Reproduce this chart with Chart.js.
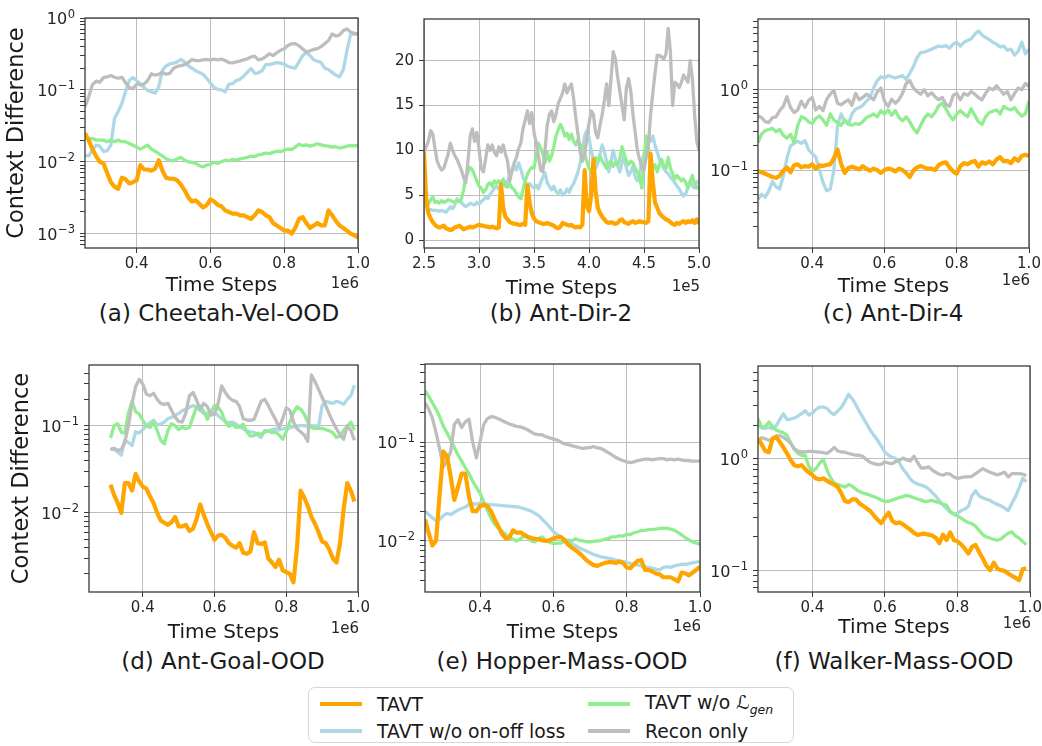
<!DOCTYPE html>
<html>
<head>
<meta charset="utf-8">
<script src="https://cdn.jsdelivr.net/npm/chart.js@4/dist/chart.umd.min.js"></script>
<style>
  html, body { margin: 0; padding: 0; background: #fff; }
  body { width: 1042px; height: 746px; position: relative; overflow: hidden;
         font-family: "DejaVu Sans", sans-serif; color: #1a1a1a; }
  .panel { position: absolute; }
  .panel canvas { display: block; }
  .cap { position: absolute; font-size: 23px; white-space: nowrap;
         transform: translate(-50%, -50%); line-height: 1; }
  #legend { position: absolute; left: 308px; top: 687px; width: 486px; height: 56px;
            border: 1.5px solid #d6d6d6; border-radius: 7px; box-sizing: border-box; background: #fff; }
  .li { position: absolute; height: 22px; display: flex; align-items: center;
        font-size: 18.8px; white-space: nowrap; }
  .li i { display: inline-block; width: 42px; height: 3.5px; margin-right: 15px; }
  .cal { font-style: italic; }
  .li sub { font-size: 12.5px; font-style: italic; position: relative; top: 1px; }
</style>
</head>
<body>

<div class="cap" style="left:219px;top:313px">(a) Cheetah-Vel-OOD</div>
<div class="cap" style="left:561px;top:313px">(b) Ant-Dir-2</div>
<div class="cap" style="left:893px;top:313px">(c) Ant-Dir-4</div>
<div class="cap" style="left:223px;top:661px">(d) Ant-Goal-OOD</div>
<div class="cap" style="left:562px;top:661px">(e) Hopper-Mass-OOD</div>
<div class="cap" style="left:894px;top:661px">(f) Walker-Mass-OOD</div>

<div id="legend">
  <div class="li" style="left:11px;top:5px"><i style="background:#ffa500;height:4px"></i><span>TAVT</span></div>
  <div class="li" style="left:11px;top:32px"><i style="background:#add8e6"></i><span>TAVT w/o on-off loss</span></div>
  <div class="li" style="left:279px;top:5px"><i style="background:#90ee90"></i><span>TAVT w/o <span class="cal">ℒ</span><sub>gen</sub></span></div>
  <div class="li" style="left:279px;top:32px"><i style="background:#bebebe"></i><span>Recon only</span></div>
</div>

<script>
// ---------- time steps (×1e6, except Ant-Dir-2 which is ×1e5) ----------
const cheetahSteps = [0.26,0.27,0.28,0.29,0.30,0.31,0.32,0.33,0.34,0.35,0.36,0.37,0.38,0.39,0.40,0.41,0.42,0.43,0.44,0.45,0.46,0.47,0.48,0.49,0.50,0.51,0.52,0.53,0.54,0.55,0.56,0.57,0.58,0.59,0.60,0.61,0.62,0.63,0.64,0.65,0.66,0.67,0.68,0.69,0.70,0.71,0.72,0.73,0.74,0.75,0.76,0.77,0.78,0.79,0.80,0.81,0.82,0.83,0.84,0.85,0.86,0.87,0.88,0.89,0.90,0.91,0.92,0.93,0.94,0.95,0.96,0.97,0.98,0.99,1.00];
const antDir2Steps = [2.50,2.52,2.54,2.56,2.58,2.60,2.62,2.64,2.66,2.68,2.70,2.72,2.74,2.76,2.78,2.80,2.82,2.84,2.86,2.88,2.90,2.92,2.94,2.96,2.98,3.00,3.02,3.04,3.06,3.08,3.10,3.12,3.14,3.16,3.18,3.20,3.22,3.24,3.26,3.28,3.30,3.32,3.34,3.36,3.38,3.40,3.42,3.44,3.46,3.48,3.50,3.52,3.54,3.56,3.58,3.60,3.62,3.64,3.66,3.68,3.70,3.72,3.74,3.76,3.78,3.80,3.82,3.84,3.86,3.88,3.90,3.92,3.94,3.96,3.98,4.00,4.02,4.04,4.06,4.08,4.10,4.12,4.14,4.16,4.18,4.20,4.22,4.24,4.26,4.28,4.30,4.32,4.34,4.36,4.38,4.40,4.42,4.44,4.46,4.48,4.50,4.52,4.54,4.56,4.58,4.60,4.62,4.64,4.66,4.68,4.70,4.72,4.74,4.76,4.78,4.80,4.82,4.84,4.86,4.88,4.90,4.92,4.94,4.96,4.98,5.00];
const antDir4Steps = [0.25,0.26,0.27,0.28,0.29,0.30,0.31,0.32,0.33,0.34,0.35,0.36,0.37,0.38,0.39,0.40,0.41,0.42,0.43,0.44,0.45,0.46,0.47,0.48,0.49,0.50,0.51,0.52,0.53,0.54,0.55,0.56,0.57,0.58,0.59,0.60,0.61,0.62,0.63,0.64,0.65,0.66,0.67,0.68,0.69,0.70,0.71,0.72,0.73,0.74,0.75,0.76,0.77,0.78,0.79,0.80,0.81,0.82,0.83,0.84,0.85,0.86,0.87,0.88,0.89,0.90,0.91,0.92,0.93,0.94,0.95,0.96,0.97,0.98,0.99,1.00];
const antGoalSteps = [0.31,0.32,0.33,0.34,0.35,0.36,0.37,0.38,0.39,0.40,0.41,0.42,0.43,0.44,0.45,0.46,0.47,0.48,0.49,0.50,0.51,0.52,0.53,0.54,0.55,0.56,0.57,0.58,0.59,0.60,0.61,0.62,0.63,0.64,0.65,0.66,0.67,0.68,0.69,0.70,0.71,0.72,0.73,0.74,0.75,0.76,0.77,0.78,0.79,0.80,0.81,0.82,0.83,0.84,0.85,0.86,0.87,0.88,0.89,0.90,0.91,0.92,0.93,0.94,0.95,0.96,0.97,0.98,0.99];
const hopperSteps = [0.25,0.26,0.27,0.28,0.29,0.30,0.31,0.32,0.33,0.34,0.35,0.36,0.37,0.38,0.39,0.40,0.41,0.42,0.43,0.44,0.45,0.46,0.47,0.48,0.49,0.50,0.51,0.52,0.53,0.54,0.55,0.56,0.57,0.58,0.59,0.60,0.61,0.62,0.63,0.64,0.65,0.66,0.67,0.68,0.69,0.70,0.71,0.72,0.73,0.74,0.75,0.76,0.77,0.78,0.79,0.80,0.81,0.82,0.83,0.84,0.85,0.86,0.87,0.88,0.89,0.90,0.91,0.92,0.93,0.94,0.95,0.96,0.97,0.98,0.99,1.00];
const walkerSteps = [0.25,0.26,0.27,0.28,0.29,0.30,0.31,0.32,0.33,0.34,0.35,0.36,0.37,0.38,0.39,0.40,0.41,0.42,0.43,0.44,0.45,0.46,0.47,0.48,0.49,0.50,0.51,0.52,0.53,0.54,0.55,0.56,0.57,0.58,0.59,0.60,0.61,0.62,0.63,0.64,0.65,0.66,0.67,0.68,0.69,0.70,0.71,0.72,0.73,0.74,0.75,0.76,0.77,0.78,0.79,0.80,0.81,0.82,0.83,0.84,0.85,0.86,0.87,0.88,0.89,0.90,0.91,0.92,0.93,0.94,0.95,0.96,0.97,0.98,0.99];

// ---------- (a) Cheetah-Vel-OOD ----------
const cheetahTavt = [0.025,0.020,0.015,0.012,0.010,0.0095,0.0070,0.0052,0.0045,0.0042,
  0.0060,0.0057,0.0050,0.0052,0.0055,0.0090,0.0078,0.0078,0.0075,0.0080,
  0.0105,0.0075,0.0060,0.0058,0.0058,0.0055,0.0048,0.0040,0.0032,0.0028,
  0.0029,0.0026,0.0023,0.0025,0.0030,0.0028,0.0025,0.0024,0.0021,0.0020,
  0.0019,0.0019,0.0018,0.0018,0.0017,0.0016,0.0018,0.0021,0.0020,0.0018,
  0.0017,0.0014,0.0013,0.0012,0.0011,0.0011,0.0010,0.0012,0.0016,0.0017,
  0.0014,0.0012,0.0013,0.0014,0.0013,0.0013,0.0021,0.0018,0.0015,0.0013,
  0.0012,0.0011,0.0010,0.00095,0.00088];
const cheetahNoOnOff = [0.0123,0.0121,0.0145,0.0170,0.0165,0.0140,0.0142,0.0170,0.040,0.050,
  0.065,0.095,0.135,0.148,0.135,0.120,0.108,0.098,0.094,0.090,
  0.110,0.190,0.215,0.230,0.235,0.245,0.265,0.245,0.215,0.200,
  0.185,0.175,0.165,0.145,0.125,0.108,0.102,0.100,0.094,0.120,
  0.122,0.135,0.140,0.155,0.175,0.198,0.170,0.172,0.185,0.225,
  0.225,0.232,0.240,0.235,0.228,0.212,0.205,0.200,0.245,0.300,
  0.330,0.300,0.262,0.250,0.240,0.200,0.192,0.175,0.160,0.152,
  0.190,0.350,0.590,0.600,0.590];
const cheetahNoGen = [0.022,0.021,0.021,0.020,0.020,0.020,0.019,0.020,0.019,0.020,
  0.019,0.019,0.018,0.017,0.016,0.015,0.016,0.017,0.015,0.014,
  0.013,0.012,0.011,0.0105,0.0103,0.011,0.0115,0.0105,0.0100,0.0098,
  0.0095,0.0088,0.0085,0.0090,0.0092,0.0098,0.0095,0.0100,0.0105,0.0103,
  0.0108,0.0105,0.0110,0.0112,0.0115,0.0120,0.0118,0.0125,0.0128,0.0132,
  0.0130,0.0135,0.0140,0.0138,0.0145,0.0150,0.0148,0.0160,0.0175,0.0168,
  0.0172,0.0165,0.0170,0.0178,0.0172,0.0168,0.0165,0.0160,0.0162,0.0155,
  0.0158,0.0165,0.0168,0.0167,0.0168];
const cheetahRecon = [0.058,0.080,0.118,0.132,0.128,0.148,0.152,0.158,0.150,0.145,
  0.150,0.125,0.108,0.104,0.120,0.118,0.120,0.135,0.168,0.160,
  0.165,0.175,0.165,0.170,0.200,0.212,0.218,0.225,0.240,0.265,
  0.255,0.256,0.262,0.266,0.260,0.268,0.262,0.268,0.256,0.240,
  0.238,0.245,0.252,0.262,0.270,0.288,0.295,0.262,0.270,0.290,
  0.318,0.300,0.330,0.355,0.373,0.414,0.437,0.440,0.410,0.370,
  0.335,0.350,0.365,0.375,0.400,0.440,0.486,0.600,0.560,0.580,
  0.668,0.705,0.640,0.610,0.600];

// ---------- (b) Ant-Dir-2 ----------
const antDir2Tavt = [9.8,4.5,3.0,2.4,2.0,1.7,1.5,1.4,1.5,1.6,
  1.3,1.2,1.1,1.2,1.4,1.5,1.6,1.4,1.2,1.3,
  1.4,1.5,1.4,1.5,1.6,1.7,1.6,1.6,1.5,1.5,
  1.4,1.5,1.4,1.3,1.4,6.2,3.6,2.6,2.3,2.0,
  1.9,1.8,1.8,1.7,1.7,1.8,1.7,6.1,4.2,3.0,
  2.4,2.1,2.0,1.9,1.8,1.8,1.9,1.8,1.7,1.6,
  1.4,1.3,1.5,1.9,1.8,1.7,1.6,1.7,1.5,1.4,
  1.5,1.4,1.7,7.8,3.8,3.2,5.0,9.0,5.5,3.6,
  3.0,2.6,2.3,2.0,1.9,2.0,1.9,1.8,1.9,2.2,
  2.3,2.0,1.9,1.8,2.0,2.1,1.9,2.0,2.1,2.0,
  2.0,1.9,2.1,9.6,6.5,4.2,3.6,3.0,2.7,2.5,
  2.3,2.2,2.0,1.8,1.7,1.9,1.8,2.0,2.1,1.9,
  2.1,2.0,2.2,1.9,2.3,1.8];
const antDir2NoOnOff = [4.6,3.8,3.4,3.4,3.3,3.3,3.3,3.2,3.3,3.2,
  3.1,3.4,3.7,3.5,3.9,4.6,4.3,4.2,3.9,3.7,
  3.9,4.1,4.0,3.9,4.2,4.0,4.3,4.5,4.8,4.6,
  5.1,5.4,5.8,6.0,5.7,6.1,6.4,6.0,6.6,7.2,
  7.6,8.3,7.8,8.6,7.9,7.0,6.5,6.0,6.3,6.0,
  5.8,6.1,5.7,6.4,7.0,7.5,6.4,6.0,5.6,6.0,
  5.4,5.2,5.6,5.0,5.2,5.7,5.3,5.9,6.3,6.9,
  7.6,8.6,10.2,11.6,12.2,11.4,10.0,9.0,8.0,8.6,
  9.6,10.6,9.8,8.8,7.6,8.8,10.0,9.0,8.3,7.6,
  8.6,9.4,8.0,7.2,7.6,8.2,7.0,6.6,7.4,8.6,
  9.6,10.6,11.2,11.0,11.6,10.6,9.8,9.0,8.4,8.0,
  7.6,7.4,7.0,6.7,6.4,6.0,5.7,5.2,4.9,5.2,
  5.9,6.4,6.0,5.8,6.5,6.4];
const antDir2NoGen = [6.2,4.6,4.0,4.5,4.8,4.2,4.3,4.1,4.4,4.2,
  4.3,4.5,4.4,4.3,4.2,4.4,4.3,4.6,5.6,7.0,
  7.6,8.1,7.8,7.2,6.6,6.0,5.8,5.3,5.6,6.2,
  6.4,6.0,6.6,6.3,6.6,6.4,6.8,6.2,5.9,6.3,
  5.8,5.6,5.2,4.8,4.6,5.6,6.6,7.3,7.8,8.1,
  8.0,9.4,10.8,10.3,9.6,8.6,9.8,8.8,9.4,10.4,
  11.6,12.3,12.9,12.4,11.6,11.9,11.2,11.8,11.0,10.6,
  11.2,10.2,10.6,9.6,8.8,8.0,7.6,8.4,9.2,8.8,
  9.4,8.8,8.4,8.0,8.6,8.8,8.2,8.6,8.4,9.0,
  10.4,9.6,8.8,8.4,8.8,8.6,8.0,7.6,7.0,5.8,
  9.0,11.6,10.4,8.6,8.0,8.4,7.6,8.4,9.0,8.2,
  8.0,9.2,8.0,7.4,6.8,7.2,6.9,6.6,6.8,6.4,
  5.8,6.6,7.2,6.2,5.9,5.7];
const antDir2Recon = [9.8,10.4,11.0,12.2,11.8,10.2,8.8,8.2,7.8,8.0,
  8.8,9.6,10.8,10.0,9.4,9.0,8.4,7.8,7.0,6.4,
  8.8,11.6,12.4,11.0,12.0,10.2,8.0,7.6,9.0,10.6,
  10.0,10.6,9.8,9.4,10.4,9.8,10.6,9.6,8.8,6.6,
  7.8,8.6,9.2,10.2,10.8,12.4,13.4,14.4,13.0,14.2,
  12.0,10.8,9.4,7.8,7.6,10.0,12.8,14.0,14.4,13.2,
  14.0,15.2,15.8,16.4,17.4,16.4,17.0,17.4,15.8,13.6,
  11.8,9.8,8.8,9.4,11.4,13.0,14.4,14.0,12.0,11.4,
  12.8,14.0,15.6,17.4,15.0,18.0,21.0,20.2,18.2,16.6,
  15.0,13.4,17.0,18.0,16.6,14.0,12.0,10.0,9.0,8.0,
  7.8,9.2,10.6,14.0,16.4,18.6,20.6,20.6,20.4,20.2,
  20.8,23.6,21.0,15.0,17.6,17.4,17.0,17.6,18.4,18.0,
  17.6,20.0,18.0,14.0,11.0,10.0];

// ---------- (c) Ant-Dir-4 ----------
const antDir4Tavt = [0.097,0.094,0.090,0.086,0.082,0.080,0.085,0.098,0.108,0.094,
  0.115,0.118,0.108,0.112,0.110,0.118,0.104,0.115,0.112,0.116,
  0.118,0.140,0.180,0.120,0.092,0.106,0.110,0.106,0.102,0.112,
  0.104,0.098,0.104,0.100,0.092,0.100,0.104,0.102,0.096,0.104,
  0.100,0.092,0.082,0.098,0.108,0.112,0.108,0.104,0.104,0.100,
  0.115,0.122,0.125,0.108,0.096,0.090,0.112,0.122,0.118,0.126,
  0.130,0.110,0.125,0.120,0.128,0.118,0.135,0.145,0.128,0.130,
  0.122,0.140,0.130,0.150,0.155,0.150];
const antDir4NoOnOff = [0.043,0.050,0.046,0.055,0.072,0.062,0.058,0.085,0.140,0.200,
  0.215,0.228,0.215,0.232,0.180,0.160,0.145,0.100,0.070,0.055,
  0.058,0.100,0.350,0.500,0.400,0.370,0.500,0.570,0.600,0.640,
  0.720,0.800,1.050,1.300,1.450,1.400,1.500,1.450,1.400,1.450,
  1.500,1.350,1.600,1.950,2.500,2.900,2.950,3.050,3.200,3.350,
  3.500,3.450,3.550,3.300,3.700,3.900,3.500,3.900,4.100,4.300,
  4.900,5.400,4.800,4.500,4.200,3.900,3.700,3.400,3.500,3.100,
  3.200,2.700,3.000,3.900,2.800,3.200];
const antDir4NoGen = [0.22,0.28,0.31,0.32,0.33,0.30,0.32,0.27,0.25,0.28,
  0.22,0.36,0.46,0.44,0.40,0.38,0.44,0.47,0.42,0.36,
  0.50,0.42,0.39,0.36,0.42,0.38,0.36,0.38,0.37,0.40,
  0.45,0.47,0.50,0.46,0.55,0.50,0.56,0.48,0.55,0.45,
  0.41,0.46,0.40,0.33,0.29,0.36,0.44,0.50,0.46,0.52,
  0.63,0.68,0.58,0.48,0.42,0.50,0.55,0.50,0.46,0.58,
  0.48,0.40,0.37,0.46,0.52,0.54,0.56,0.50,0.62,0.58,
  0.56,0.60,0.52,0.47,0.50,0.72];
const antDir4Recon = [0.47,0.45,0.40,0.39,0.45,0.46,0.55,0.62,0.82,0.60,
  0.52,0.56,0.72,0.60,0.74,0.80,0.56,0.62,0.55,0.76,
  0.88,0.98,0.68,0.65,0.70,0.75,0.64,0.90,0.75,0.80,
  0.88,0.82,0.75,0.94,1.05,0.72,0.62,0.76,0.68,0.75,
  0.90,1.20,1.30,1.05,0.95,0.88,1.00,0.84,0.92,0.82,
  0.75,0.80,0.66,0.62,0.85,0.90,0.75,0.90,0.85,0.95,
  0.88,0.80,0.75,0.90,1.05,1.00,1.12,1.00,0.88,0.95,
  0.75,0.90,1.05,1.00,1.20,1.10];

// ---------- (d) Ant-Goal-OOD ----------
const antGoalTavt = [0.021,0.016,0.013,0.010,0.022,0.022,0.018,0.028,0.023,0.020,
  0.019,0.0155,0.013,0.010,0.0082,0.0077,0.0073,0.0078,0.0090,0.0070,
  0.0070,0.0073,0.0062,0.0066,0.0085,0.0125,0.0095,0.0074,0.0060,0.0049,
  0.0055,0.0056,0.0052,0.0045,0.0042,0.0040,0.0045,0.0035,0.0034,0.0036,
  0.0060,0.0045,0.0044,0.0046,0.0030,0.0027,0.0024,0.0029,0.0022,0.0021,
  0.0020,0.0016,0.0040,0.0180,0.0150,0.0120,0.0090,0.0075,0.0060,0.0047,
  0.0045,0.0038,0.0030,0.0027,0.0045,0.0110,0.0220,0.0180,0.0135];
const antGoalNoOnOff = [0.055,0.053,0.050,0.046,0.068,0.064,0.059,0.085,0.082,0.090,
  0.100,0.108,0.115,0.102,0.104,0.110,0.120,0.125,0.130,0.138,
  0.148,0.155,0.162,0.170,0.162,0.148,0.138,0.138,0.142,0.140,
  0.130,0.120,0.112,0.108,0.110,0.104,0.098,0.092,0.087,0.085,
  0.084,0.078,0.073,0.088,0.086,0.090,0.092,0.089,0.092,0.093,
  0.094,0.097,0.099,0.100,0.100,0.098,0.099,0.100,0.097,0.170,
  0.190,0.185,0.180,0.190,0.185,0.175,0.200,0.220,0.290];
const antGoalNoGen = [0.072,0.100,0.105,0.084,0.082,0.140,0.190,0.145,0.136,0.115,
  0.100,0.095,0.110,0.088,0.068,0.062,0.088,0.105,0.100,0.090,
  0.096,0.092,0.095,0.125,0.165,0.168,0.145,0.118,0.145,0.170,
  0.162,0.142,0.110,0.098,0.104,0.095,0.096,0.104,0.084,0.076,
  0.077,0.082,0.079,0.085,0.087,0.083,0.084,0.078,0.070,0.085,
  0.110,0.140,0.165,0.155,0.135,0.110,0.095,0.093,0.093,0.093,
  0.090,0.087,0.083,0.073,0.076,0.088,0.098,0.110,0.089];
const antGoalRecon = [0.053,0.055,0.052,0.053,0.065,0.100,0.180,0.280,0.340,0.300,
  0.230,0.220,0.235,0.200,0.180,0.175,0.180,0.150,0.125,0.112,
  0.110,0.140,0.220,0.240,0.195,0.155,0.180,0.165,0.132,0.135,
  0.180,0.285,0.240,0.210,0.195,0.190,0.165,0.120,0.116,0.115,
  0.118,0.150,0.190,0.200,0.170,0.140,0.118,0.095,0.120,0.160,
  0.150,0.110,0.092,0.085,0.078,0.066,0.380,0.320,0.260,0.210,
  0.170,0.135,0.110,0.092,0.078,0.070,0.100,0.088,0.068];

// ---------- (e) Hopper-Mass-OOD ----------
const hopperTavt = [0.0165,0.0121,0.0090,0.0100,0.030,0.080,0.072,0.045,0.026,0.035,
  0.048,0.048,0.028,0.020,0.020,0.0224,0.0232,0.0225,0.0200,0.0165,
  0.0140,0.0118,0.0106,0.0108,0.0128,0.0121,0.0122,0.0116,0.0110,0.0107,
  0.0105,0.0104,0.0101,0.0100,0.0102,0.0106,0.0109,0.0110,0.0103,0.0092,
  0.0086,0.0081,0.0076,0.0070,0.0064,0.0060,0.0057,0.0056,0.0058,0.0060,
  0.0061,0.0061,0.0060,0.0062,0.0060,0.0054,0.0053,0.0058,0.0063,0.0064,
  0.0051,0.0051,0.0049,0.0047,0.0046,0.0043,0.0043,0.0043,0.0041,0.0039,
  0.0048,0.0047,0.0045,0.0048,0.0051,0.0055];
const hopperNoOnOff = [0.0200,0.0185,0.0172,0.0160,0.0165,0.0180,0.0190,0.0185,0.0195,0.0205,
  0.0213,0.0220,0.0235,0.0238,0.0235,0.0242,0.0238,0.0235,0.0233,0.0232,
  0.0230,0.0228,0.0226,0.0225,0.0223,0.0222,0.0218,0.0212,0.0206,0.0200,
  0.0190,0.0180,0.0165,0.0152,0.0138,0.0125,0.0117,0.0110,0.0103,0.0097,
  0.0094,0.0090,0.0086,0.0082,0.0079,0.0076,0.0073,0.0071,0.0069,0.0068,
  0.0067,0.0066,0.0064,0.0063,0.0062,0.0061,0.0059,0.0058,0.0057,0.0056,
  0.0055,0.0054,0.0053,0.0052,0.0051,0.0054,0.0055,0.0054,0.0056,0.0057,
  0.0058,0.0058,0.0059,0.0060,0.0061,0.0062];
const hopperNoGen = [0.330,0.290,0.250,0.215,0.180,0.145,0.123,0.105,0.088,0.074,
  0.064,0.055,0.048,0.040,0.035,0.0305,0.025,0.0205,0.017,0.0148,
  0.0135,0.0125,0.0117,0.0110,0.0104,0.0100,0.0105,0.0112,0.0108,0.0100,
  0.0098,0.0106,0.0110,0.0100,0.0097,0.0094,0.0095,0.0095,0.0099,0.0102,
  0.0100,0.0105,0.0102,0.0100,0.0098,0.0098,0.0099,0.0100,0.0101,0.0104,
  0.0106,0.0110,0.0110,0.0113,0.0112,0.0117,0.0116,0.0121,0.0124,0.0127,
  0.0128,0.0130,0.0131,0.0132,0.0134,0.0135,0.0134,0.0132,0.0128,0.0122,
  0.0115,0.0108,0.0102,0.0098,0.0095,0.0093];
const hopperRecon = [0.250,0.215,0.175,0.125,0.085,0.056,0.065,0.080,0.150,0.168,
  0.140,0.160,0.170,0.100,0.069,0.100,0.150,0.172,0.180,0.178,
  0.172,0.165,0.158,0.152,0.148,0.144,0.142,0.138,0.133,0.126,
  0.120,0.119,0.118,0.113,0.110,0.107,0.105,0.100,0.096,0.094,
  0.092,0.090,0.088,0.086,0.087,0.088,0.090,0.087,0.086,0.082,
  0.078,0.074,0.070,0.067,0.065,0.063,0.062,0.063,0.065,0.066,
  0.067,0.067,0.066,0.067,0.068,0.068,0.066,0.067,0.066,0.067,
  0.066,0.065,0.065,0.064,0.064,0.064];

// ---------- (f) Walker-Mass-OOD ----------
const walkerTavt = [1.52,1.35,1.18,1.15,1.52,1.58,1.42,1.27,1.12,0.98,
  0.88,0.86,0.88,0.81,0.76,0.72,0.67,0.655,0.67,0.64,
  0.61,0.59,0.56,0.49,0.42,0.41,0.435,0.435,0.40,0.38,
  0.36,0.34,0.31,0.285,0.266,0.30,0.33,0.28,0.265,0.27,
  0.26,0.245,0.233,0.218,0.208,0.213,0.214,0.210,0.206,0.197,
  0.176,0.210,0.188,0.220,0.188,0.183,0.172,0.158,0.142,0.163,
  0.170,0.146,0.128,0.110,0.101,0.118,0.104,0.101,0.099,0.094,
  0.090,0.086,0.082,0.103,0.104];
const walkerNoOnOff = [2.00,1.90,1.88,1.92,1.87,1.98,2.25,2.55,2.25,2.28,
  2.33,2.42,2.55,2.70,2.48,2.58,2.78,2.92,2.92,2.85,
  2.62,2.50,2.70,2.90,3.30,3.80,3.45,3.05,2.65,2.33,
  2.05,1.80,1.62,1.47,1.30,1.15,1.08,1.035,1.01,0.92,
  0.81,0.74,0.66,0.62,0.597,0.583,0.568,0.54,0.503,0.465,
  0.425,0.387,0.36,0.333,0.324,0.326,0.345,0.355,0.375,0.47,
  0.52,0.465,0.448,0.436,0.426,0.405,0.392,0.38,0.362,0.345,
  0.40,0.46,0.55,0.67,0.625];
const walkerNoGen = [2.30,1.93,1.95,2.15,1.96,1.82,1.76,1.72,1.62,1.40,
  1.22,1.12,1.08,1.08,0.86,0.78,0.82,0.92,0.99,0.80,
  0.68,0.61,0.59,0.575,0.56,0.59,0.57,0.535,0.51,0.495,
  0.485,0.47,0.46,0.445,0.43,0.415,0.418,0.428,0.44,0.452,
  0.46,0.472,0.462,0.45,0.438,0.428,0.415,0.42,0.425,0.415,
  0.405,0.395,0.385,0.34,0.318,0.31,0.295,0.28,0.27,0.263,
  0.25,0.228,0.21,0.20,0.196,0.19,0.187,0.192,0.205,0.216,
  0.222,0.205,0.195,0.182,0.170];
const walkerRecon = [1.47,1.55,1.52,1.47,1.50,1.60,1.62,1.56,1.48,1.38,
  1.24,1.18,1.155,1.16,1.17,1.17,1.16,1.15,1.14,1.12,
  1.18,1.27,1.18,1.155,1.15,1.12,1.10,1.08,1.08,1.05,
  0.98,0.93,0.91,0.89,0.90,0.94,0.92,0.91,0.95,0.97,
  1.02,0.98,0.96,1.06,0.93,0.83,0.83,0.85,0.80,0.76,
  0.73,0.715,0.74,0.73,0.69,0.67,0.68,0.69,0.69,0.70,
  0.74,0.78,0.82,0.79,0.76,0.74,0.72,0.74,0.76,0.69,
  0.74,0.74,0.74,0.73,0.71];

// ---------- shared axis tick values ----------
const stepTicks = [0.4, 0.6, 0.8, 1.0];
const antDir2StepTicks = [2.5, 3.0, 3.5, 4.0, 4.5, 5.0];
const antDir2ValueTicks = [0, 5, 10, 15, 20];

// ---------- styling ----------
Chart.defaults.font.family = '"DejaVu Sans", sans-serif';
Chart.defaults.color = '#262626';
Chart.defaults.animation = false;

const GRID = '#bdbdbd';
const SPINE = '#3a3a3a';
const TEXT = '#262626';
const TICK_FONT = { size: 15 };
const METHODS = [
  { key: 'tavt',    color: '#ffa500', width: 4.2 },
  { key: 'recon',   color: '#bebebe', width: 3.3 },
  { key: 'noGen',   color: '#90ee90', width: 3.3 },
  { key: 'noOnOff', color: '#add8e6', width: 3.3 }
];

const isDecade = v => Math.abs(Math.log10(v) - Math.round(Math.log10(v))) < 1e-6;

// 1..9 × 10^k ticks inside [min, max]; only the decades get labels and grid lines
function logTicks(min, max) {
  const out = [];
  for (let e = Math.floor(Math.log10(min)); e <= Math.ceil(Math.log10(max)); e++) {
    for (let m = 1; m <= 9; m++) {
      const v = m * Math.pow(10, e);
      if (v >= min * 0.9999 && v <= max * 1.0001) out.push(v);
    }
  }
  return out;
}

// closed frame around the plot area, power-of-ten labels with raised exponents,
// and the axis multiplier text under the right end of the x axis
const framePlugin = {
  id: 'frame',
  afterDatasetsDraw(chart) {
    const { ctx, chartArea: a } = chart;
    ctx.save();
    ctx.strokeStyle = SPINE;
    ctx.lineWidth = 1.3;
    ctx.strokeRect(a.left, a.top, a.right - a.left, a.bottom - a.top);
    ctx.restore();
  },
  afterDraw(chart, args, opts) {
    const { ctx, chartArea: a } = chart;
    const ys = chart.scales.y;
    ctx.save();
    ctx.fillStyle = TEXT;
    if (ys.type === 'logarithmic') {
      ctx.textAlign = 'right';
      ctx.textBaseline = 'alphabetic';
      ys.ticks.forEach(t => {
        if (!isDecade(t.value)) return;
        const py = ys.getPixelForValue(t.value);
        const e = Math.round(Math.log10(t.value));
        const expTxt = e < 0 ? '\u2212' + (-e) : String(e);
        const xr = a.left - 10;
        ctx.font = '11.5px "DejaVu Sans"';
        const ew = ctx.measureText(expTxt).width;
        ctx.fillText(expTxt, xr, py - 0.5);
        ctx.font = '16px "DejaVu Sans"';
        ctx.fillText('10', xr - ew - 0.5, py + 6);
      });
    }
    if (opts.text) {
      ctx.font = '15px "DejaVu Sans"';
      ctx.textAlign = 'right';
      ctx.textBaseline = 'middle';
      ctx.fillText(opts.text, a.right + 1, a.bottom + opts.dy);
    }
    ctx.restore();
  }
};

function makePanel(p) {
  const LP = p.lp, TP = 14, RP = 26, BP = 58;
  const [x0, y0, x1, y1] = p.rect;
  const w = x1 - x0 + LP + RP, h = y1 - y0 + TP + BP;
  const box = document.createElement('div');
  box.className = 'panel';
  Object.assign(box.style, { left: (x0 - LP) + 'px', top: (y0 - TP) + 'px', width: w + 'px', height: h + 'px' });
  const cv = document.createElement('canvas');
  cv.width = w; cv.height = h;
  cv.style.width = w + 'px'; cv.style.height = h + 'px';
  box.appendChild(cv);
  document.body.appendChild(box);

  const datasets = METHODS.map(m => ({
    label: m.key,
    data: p.series[m.key],
    borderColor: m.color,
    backgroundColor: m.color,
    borderWidth: m.width,
    pointRadius: 0,
    tension: 0,
    fill: false,
    borderJoinStyle: 'round',
    borderCapStyle: 'butt'
  }));

  const yTitle = p.yTitle
    ? { display: true, text: 'Context Difference', font: { size: 22.5 }, color: '#1a1a1a', padding: { top: p.yTitlePad, bottom: 0 } }
    : { display: false };

  let yScale;
  if (p.yLog) {
    yScale = {
      type: 'logarithmic', min: p.yMin, max: p.yMax, bounds: 'data',
      afterFit: s => { s.width = LP; },
      afterBuildTicks: s => { s.ticks = logTicks(p.yMin, p.yMax).map(v => ({ value: v })); },
      ticks: { autoSkip: false, padding: 5, font: TICK_FONT, callback: () => '' },
      grid: {
        color: c => (c.tick && isDecade(c.tick.value)) ? GRID : 'rgba(0,0,0,0)',
        lineWidth: 1, tickColor: SPINE, tickLength: 5, tickWidth: 1
      },
      border: { display: false },
      title: yTitle
    };
  } else {
    yScale = {
      type: 'linear', min: p.yMin, max: p.yMax, bounds: 'data',
      afterFit: s => { s.width = LP; },
      afterBuildTicks: s => { s.ticks = p.yTicks.map(v => ({ value: v })); },
      ticks: { autoSkip: false, padding: 5, font: TICK_FONT, callback: v => String(v) },
      grid: { color: GRID, lineWidth: 1, tickColor: SPINE, tickLength: 5, tickWidth: 1 },
      border: { display: false },
      title: yTitle
    };
  }

  new Chart(cv, {
    type: 'line',
    data: { labels: p.steps, datasets },
    options: {
      responsive: false,
      devicePixelRatio: 1,
      layout: { padding: { left: 0, top: TP, right: RP, bottom: 0 } },
      plugins: {
        legend: { display: false },
        tooltip: { enabled: false },
        frame: { text: p.offset, dy: p.offDy }
      },
      scales: {
        x: {
          type: 'linear', min: p.xMin, max: p.xMax, bounds: 'data',
          afterFit: s => { s.height = BP; },
          afterBuildTicks: s => { s.ticks = p.xTicks.map(v => ({ value: v })); },
          ticks: { autoSkip: false, maxRotation: 0, minRotation: 0, padding: 2, font: TICK_FONT,
                   callback: v => Number(v).toFixed(1) },
          grid: { color: GRID, lineWidth: 1, tickColor: SPINE, tickLength: 5, tickWidth: 1 },
          border: { display: false },
          title: { display: true, text: 'Time Steps', font: { size: 20 }, color: '#1a1a1a',
                   padding: { top: 0, bottom: BP - 12 - p.titleDy } }
        },
        y: yScale
      }
    },
    plugins: [framePlugin]
  });
}

const panels = [
  { rect: [85, 18, 358, 248], lp: 85, yTitle: true, yTitlePad: 4,
    steps: cheetahSteps, xMin: 0.26, xMax: 1.0, xTicks: stepTicks,
    yLog: true, yMin: 6.31e-4, yMax: 1.0, offset: '1e6', offDy: 36, titleDy: 38,
    series: { tavt: cheetahTavt, recon: cheetahRecon, noGen: cheetahNoGen, noOnOff: cheetahNoOnOff } },
  { rect: [424, 19, 699, 248], lp: 70, yTitle: false,
    steps: antDir2Steps, xMin: 2.5, xMax: 5.0, xTicks: antDir2StepTicks,
    yLog: false, yMin: -0.89, yMax: 24.65, yTicks: antDir2ValueTicks, offset: '1e5', offDy: 39, titleDy: 41,
    series: { tavt: antDir2Tavt, recon: antDir2Recon, noGen: antDir2NoGen, noOnOff: antDir2NoOnOff } },
  { rect: [758, 19, 1029, 248], lp: 70, yTitle: false,
    steps: antDir4Steps, xMin: 0.25, xMax: 1.0, xTicks: stepTicks,
    yLog: true, yMin: 0.0107, yMax: 7.6, offset: '1e6', offDy: 33, titleDy: 39,
    series: { tavt: antDir4Tavt, recon: antDir4Recon, noGen: antDir4NoGen, noOnOff: antDir4NoOnOff } },
  { rect: [89, 365, 358, 592], lp: 89, yTitle: true, yTitlePad: 9,
    steps: antGoalSteps, xMin: 0.25, xMax: 1.0, xTicks: stepTicks,
    yLog: true, yMin: 0.00124, yMax: 0.495, offset: '1e6', offDy: 37, titleDy: 41,
    series: { tavt: antGoalTavt, recon: antGoalRecon, noGen: antGoalNoGen, noOnOff: antGoalNoOnOff } },
  { rect: [425, 364, 700, 592], lp: 70, yTitle: false,
    steps: hopperSteps, xMin: 0.25, xMax: 1.0, xTicks: stepTicks,
    yLog: true, yMin: 0.00305, yMax: 0.614, offset: '1e6', offDy: 35, titleDy: 41,
    series: { tavt: hopperTavt, recon: hopperRecon, noGen: hopperNoGen, noOnOff: hopperNoOnOff } },
  { rect: [758, 366, 1030, 592], lp: 70, yTitle: false,
    steps: walkerSteps, xMin: 0.25, xMax: 1.0, xTicks: stepTicks,
    yLog: true, yMin: 0.0643, yMax: 6.81, offset: '1e6', offDy: 32, titleDy: 36,
    series: { tavt: walkerTavt, recon: walkerRecon, noGen: walkerNoGen, noOnOff: walkerNoOnOff } }
];

panels.forEach(makePanel);
</script>
</body>
</html>
